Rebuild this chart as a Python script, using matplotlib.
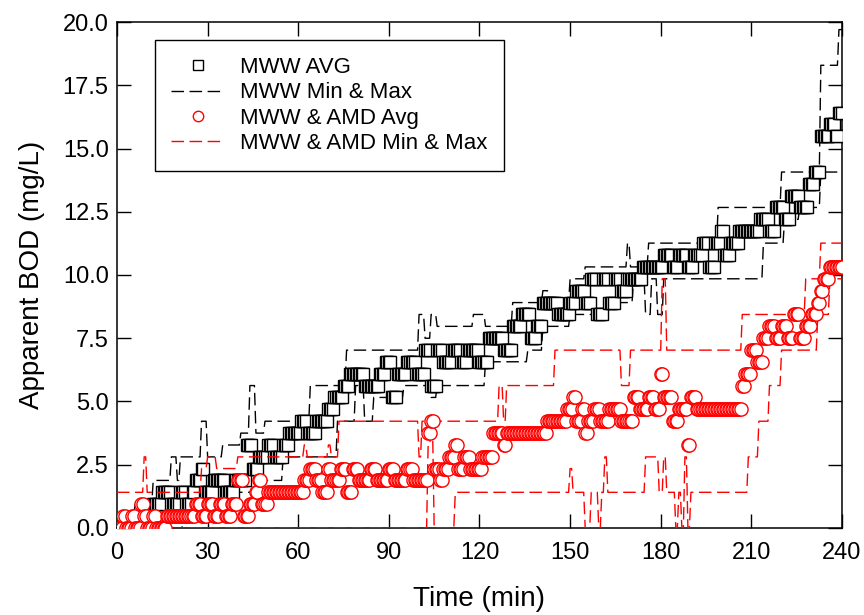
import numpy as np
import matplotlib
matplotlib.use('Agg')
from matplotlib import pyplot as plt

plt.rcParams['font.family'] = ['Liberation Sans', 'DejaVu Sans']

# readings every 0.5 min; each list holds (time where the reading changes, level in mg/L)
time_min = np.arange(0, 240.01, 0.5)

mww_avg = [(0, 0), (12, 0.94), (15, 1.41), (18, 0.94), (21, 1.41), (23, 0.94), (25, 1.41), (26, 1.88),
           (28, 2.35), (29, 1.41), (32, 1.88), (36, 1.41), (39, 1.88), (43, 3.28), (45, 2.35), (47, 2.81),
           (50, 3.28), (52, 2.81), (55, 3.28), (57, 3.75), (61, 4.22), (63, 3.75), (66, 4.22), (70, 4.69),
           (72, 5.16), (75, 5.63), (77, 6.10), (82, 5.63), (87, 6.10), (89, 6.57), (91, 5.16), (93, 6.10),
           (96, 6.57), (99, 6.10), (102, 7.03), (104, 5.63), (106, 7.03), (108, 6.57), (111, 7.03),
           (114, 6.57), (116, 7.03), (120, 6.57), (123, 7.50), (128, 7.03), (131, 7.97), (134, 8.44),
           (137, 7.50), (139, 7.97), (141, 8.91), (146, 8.44), (150, 8.91), (152, 9.38), (155, 8.91),
           (157, 9.85), (159, 8.44), (161, 9.85), (163, 8.91), (165, 9.85), (167, 9.38), (169, 9.85),
           (174, 10.32), (181, 10.79), (184, 10.32), (186, 10.79), (189, 10.32), (191, 10.79), (194, 11.26),
           (196, 10.32), (198, 11.26), (200, 11.73), (201, 10.79), (203, 11.26), (206, 11.73), (213, 12.20),
           (216, 11.73), (218, 12.67), (221, 12.20), (223, 13.13), (226, 12.67), (229, 13.60), (231, 14.07),
           (233, 15.48), (236, 15.95), (238, 15.48), (239, 16.42)]

mww_max = [(0, 0.47), (6, 0.94), (12, 1.88), (18, 2.81), (20, 1.88), (21, 2.81), (28, 4.22), (30, 2.81),
           (35, 3.28), (41, 3.75), (44, 5.63), (46, 3.75), (49, 4.22), (64, 5.63), (76, 7.03), (100, 8.44),
           (102, 7.50), (104, 8.44), (106, 7.97), (118, 8.44), (122, 7.97), (131, 8.91), (141, 9.38),
           (143, 8.91), (150, 9.85), (155, 10.32), (169, 11.26), (170, 10.32), (176, 11.26), (199, 12.67),
           (220, 14.07), (233, 18.29), (239, 19.70)]

mww_min = [(0, 0), (22, 0.47), (30, 0.94), (40, 1.41), (48, 1.88), (55, 2.81), (73, 4.22), (79, 5.63),
           (82, 4.22), (85, 5.16), (95, 5.63), (104, 5.16), (106, 5.63), (122, 6.57), (136, 7.03),
           (141, 7.97), (150, 8.44), (163, 8.91), (171, 9.85), (175, 8.44), (177, 9.85), (179, 8.44),
           (181, 9.85), (214, 11.26), (221, 12.20), (226, 12.67), (233, 14.07)]

amd_avg = [(0, 0), (2, 0.47), (3, 0), (5, 0.47), (6, 0), (8, 0.94), (9, 0.47), (10, 0), (12, 0.47), (13, 0),
           (16.5, 0.47), (26, 0.94), (28, 0.47), (30, 0.94), (32, 0.47), (34, 0.94), (36, 0.47), (38, 0.94),
           (40, 1.88), (42, 0.47), (44, 0.94), (46, 1.41), (47, 1.88), (48, 0.94), (50, 1.41), (62, 1.88),
           (64, 2.35), (66, 1.88), (68, 1.41), (70, 2.35), (71, 1.88), (74, 2.35), (76, 1.41), (78, 2.35),
           (80, 1.88), (84, 2.35), (86, 1.88), (90, 2.35), (92, 1.88), (96, 2.35), (98, 1.88), (103, 3.75),
           (104, 4.22), (105, 2.35), (107, 1.88), (108, 2.35), (110, 2.81), (112, 3.28), (113, 2.35),
           (115, 2.81), (117, 2.35), (121, 2.81), (124.5, 3.75), (128, 3.28), (129, 3.75), (142.5, 4.22),
           (149, 4.69), (151, 5.16), (152, 4.22), (154, 4.69), (155, 3.75), (156, 4.22), (158, 4.69),
           (160, 4.22), (163, 4.69), (167, 4.22), (171, 5.16), (173, 4.69), (176, 5.16), (178, 4.69),
           (180, 6.10), (181, 5.16), (184, 4.22), (186, 4.69), (189, 3.28), (190, 5.16), (192, 4.69),
           (207, 5.63), (208, 6.10), (210, 7.03), (212, 6.57), (214, 7.50), (216, 7.97), (218, 7.50),
           (220, 7.97), (222, 7.50), (224, 8.44), (226, 7.50), (228, 7.97), (230, 8.44), (232, 8.91),
           (233, 9.38), (234, 9.85), (236, 10.32)]

amd_max = [(0, 1.41), (9, 2.81), (10, 1.41), (28, 2.35), (30, 2.81), (33, 2.35), (40, 2.81), (62, 3.28),
           (63, 2.81), (70, 3.28), (71, 2.81), (73.5, 4.22), (100, 2.81), (101, 4.22), (126.5, 5.63),
           (128, 4.22), (129, 5.63), (145, 7.03), (167, 5.63), (170, 7.03), (180.5, 9.85), (182, 7.03),
           (207, 8.44), (228, 9.85), (233, 11.26)]

amd_min = [(0, 0), (103, 3.28), (104, 3.75), (105, 0), (112, 1.41), (150, 2.35), (151, 1.41), (155, 0),
           (157, 1.41), (159.5, 0), (160.5, 1.41), (161.5, 2.81), (162.5, 1.41), (175, 2.81), (179.5, 1.41),
           (181, 2.81), (182, 1.41), (185, 0), (186, 1.41), (187, 0), (188, 2.81), (189, 0), (190, 1.41),
           (209, 2.81), (212.5, 4.22), (216, 5.63), (220, 7.03), (232, 8.44), (236, 9.85)]


def expand(pairs):
    # hold each read level until the next change
    bt = np.array([p[0] for p in pairs])
    bv = np.array([p[1] for p in pairs])
    return bv[np.searchsorted(bt, time_min, side='right') - 1]


dash = (0, (9, 4))

fig = plt.figure(figsize=(8.64, 6.15), dpi=100)
ax = fig.add_axes([0.1354, 0.1415, 0.8391, 0.8227])

ax.plot(time_min, expand(mww_max), color='black', lw=1.0, ls=dash, zorder=2)
ax.plot(time_min, expand(mww_min), color='black', lw=1.0, ls=dash, zorder=2)
ax.plot(time_min, expand(mww_avg), ls='none', marker='s', ms=8.5, mfc='white', mec='black', mew=1.0, zorder=3)
ax.plot(time_min, expand(amd_max), color='red', lw=1.0, ls=dash, zorder=4)
ax.plot(time_min, expand(amd_min), color='red', lw=1.0, ls=dash, zorder=4)
ax.plot(time_min, expand(amd_avg), ls='none', marker='o', ms=9.5, mfc='white', mec='red', mew=1.0, zorder=5)

ax.set_xlim(0, 240)
ax.set_ylim(0, 20)
ax.set_xticks(np.arange(0, 241, 30))
ax.set_yticks(np.arange(0, 20.1, 2.5))
ax.set_yticklabels(['%.1f' % v for v in np.arange(0, 20.1, 2.5)])
ax.tick_params(direction='in', length=10, width=1, labelsize=17, top=True, right=True)
ax.tick_params(axis='x', pad=10)
ax.tick_params(axis='y', pad=6)
for s in ax.spines.values():
    s.set_linewidth(1.1)

ax.set_xlabel('Time (min)', fontsize=20, labelpad=16)
ax.set_ylabel('Apparent BOD (mg/L)', fontsize=20, labelpad=13)

handles = [
    plt.Line2D([], [], ls='none', marker='s', ms=7, mfc='white', mec='black', mew=1.0),
    plt.Line2D([], [], color='black', lw=1.0, ls=dash),
    plt.Line2D([], [], ls='none', marker='o', ms=7.5, mfc='white', mec='red', mew=1.0),
    plt.Line2D([], [], color='red', lw=1.0, ls=dash),
]
labels = ['MWW AVG', 'MWW Min & Max', 'MWW & AMD Avg', 'MWW & AMD Min & Max']
leg = ax.legend(handles, labels, loc='upper left', bbox_to_anchor=(0.052, 0.964), borderaxespad=0,
                fontsize=16, fancybox=False, edgecolor='black', framealpha=1, handlelength=2.4,
                handletextpad=0.7, labelspacing=0.2, borderpad=0.75)
leg.get_frame().set_linewidth(1.0)

fig.savefig('out.png', dpi=100)
